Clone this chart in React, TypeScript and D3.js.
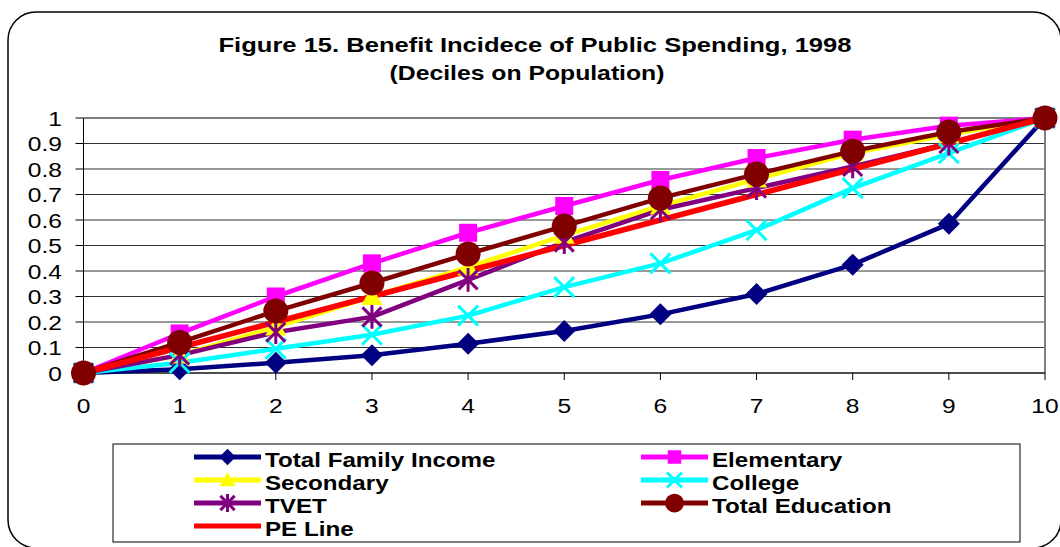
import React from "react";
import * as d3 from "d3";

const deciles = [0, 1, 2, 3, 4, 5, 6, 7, 8, 9, 10];
const yTicks = [0, 0.1, 0.2, 0.3, 0.4, 0.5, 0.6, 0.7, 0.8, 0.9, 1];

const totalFamilyIncome = [0, 0.015, 0.04, 0.07, 0.115, 0.165, 0.23, 0.31, 0.425, 0.585, 1];
const elementary = [0, 0.155, 0.3, 0.43, 0.55, 0.655, 0.757, 0.843, 0.915, 0.97, 1];
const secondary = [0, 0.07, 0.18, 0.3, 0.415, 0.54, 0.655, 0.76, 0.862, 0.935, 1];
const college = [0, 0.04, 0.095, 0.15, 0.225, 0.337, 0.43, 0.56, 0.725, 0.862, 1];
const tvet = [0, 0.07, 0.16, 0.22, 0.365, 0.513, 0.64, 0.725, 0.81, 0.9, 1];
const totalEducation = [0, 0.12, 0.243, 0.353, 0.467, 0.576, 0.686, 0.78, 0.87, 0.945, 1];
const peLine = [0, 0.1, 0.2, 0.3, 0.4, 0.5, 0.6, 0.7, 0.8, 0.9, 1];

type Marker = "diamond" | "square" | "triangle" | "x" | "star" | "circle" | "none";
const series: { name: string; values: number[]; color: string; marker: Marker; width: number }[] = [
  { name: "Total Family Income", values: totalFamilyIncome, color: "#000080", marker: "diamond", width: 4.5 },
  { name: "Elementary", values: elementary, color: "#FF00FF", marker: "square", width: 4.5 },
  { name: "Secondary", values: secondary, color: "#FFFF00", marker: "triangle", width: 4.5 },
  { name: "College", values: college, color: "#00FFFF", marker: "x", width: 4.5 },
  { name: "TVET", values: tvet, color: "#800080", marker: "star", width: 4.5 },
  { name: "Total Education", values: totalEducation, color: "#800000", marker: "circle", width: 4.5 },
  { name: "PE Line", values: peLine, color: "#FF0000", marker: "none", width: 5.5 },
];

function MarkerShape({ type, x, y, color, scale = 1 }: { type: Marker; x: number; y: number; color: string; scale?: number }) {
  const s = scale;
  switch (type) {
    case "diamond": {
      const r = 11 * s;
      return <path d={`M${x},${y - r}L${x + r},${y}L${x},${y + r}L${x - r},${y}Z`} fill={color} />;
    }
    case "square": {
      const h = 9 * s;
      return <rect x={x - h} y={y - h} width={2 * h} height={2 * h} fill={color} />;
    }
    case "triangle": {
      const h = 10.5 * s;
      return <path d={`M${x},${y - h}L${x + h},${y + h * 0.8}L${x - h},${y + h * 0.8}Z`} fill={color} />;
    }
    case "x": {
      const h = 10 * s;
      return (
        <path d={`M${x - h},${y - h}L${x + h},${y + h}M${x - h},${y + h}L${x + h},${y - h}`} stroke={color} strokeWidth={3} />
      );
    }
    case "star": {
      const h = 9.5 * s;
      return (
        <path
          d={`M${x - h},${y - h}L${x + h},${y + h}M${x - h},${y + h}L${x + h},${y - h}M${x},${y - h * 1.25}L${x},${y + h * 1.25}`}
          stroke={color}
          strokeWidth={3}
        />
      );
    }
    case "circle":
      return <circle cx={x} cy={y} r={12.5 * s} fill={color} />;
    default:
      return null;
  }
}

function SText({
  x,
  y,
  sx,
  size,
  anchor = "start",
  bold = false,
  children,
}: {
  x: number;
  y: number;
  sx: number;
  size: number;
  anchor?: "start" | "middle" | "end";
  bold?: boolean;
  children: React.ReactNode;
}) {
  return (
    <text
      transform={`translate(${x},${y}) scale(${sx},1)`}
      textAnchor={anchor}
      fontSize={size}
      fontWeight={bold ? "bold" : "normal"}
    >
      {children}
    </text>
  );
}

export default function App() {
  const W = 1060;
  const H = 547;
  const x = d3.scaleLinear().domain([0, 10]).range([83.5, 1045]);
  const y = d3.scaleLinear().domain([0, 1]).range([373, 118]);
  const line = d3
    .line<number>()
    .x((_, i) => x(deciles[i]))
    .y((d) => y(d));

  const legendRows = [
    [series[0], series[1]],
    [series[2], series[3]],
    [series[4], series[5]],
    [series[6]],
  ];
  const legendY = [457, 480, 503, 526];
  const colX = [194, 641];

  return (
    <svg width={W} height={H} style={{ position: "absolute", left: 0, top: 0 }} fontFamily="'Liberation Sans', Arial, sans-serif">
      <rect x={0} y={0} width={W} height={H} fill="#fff" />
      <rect x={8} y={12} width={1053} height={536} rx={28} ry={28} fill="none" stroke="#000" strokeWidth={1.5} />
      <SText x={535} y={52} sx={1.31} size={19.5} anchor="middle" bold>
        Figure 15. Benefit Incidece of Public Spending, 1998
      </SText>
      <SText x={527} y={80} sx={1.27} size={19.5} anchor="middle" bold>
        (Deciles on Population)
      </SText>

      {/* gridlines */}
      {yTicks.map((t) => (
        <line key={t} x1={x(0)} x2={x(10)} y1={y(t)} y2={y(t)} stroke={t === 1 ? "#808080" : "#333"} strokeWidth={t === 1 ? 2 : 1} />
      ))}
      <line x1={x(10)} x2={x(10)} y1={y(1)} y2={y(0)} stroke="#808080" strokeWidth={2} />
      {/* axes */}
      <line x1={x(0)} x2={x(0)} y1={y(1)} y2={y(0)} stroke="#000" strokeWidth={1} />
      <line x1={x(0)} x2={x(10)} y1={y(0)} y2={y(0)} stroke="#000" strokeWidth={1} />
      {yTicks.map((t) => (
        <g key={"yt" + t}>
          <line x1={x(0) - 8} x2={x(0)} y1={y(t)} y2={y(t)} stroke="#000" />
          <SText x={62} y={y(t) + 7.5} sx={1.17} size={21} anchor="end">
            {d3.format("~g")(t)}
          </SText>
        </g>
      ))}
      {deciles.map((d) => (
        <g key={"xt" + d}>
          <line x1={x(d)} x2={x(d)} y1={y(0)} y2={y(0) + 7} stroke="#000" />
          <SText x={x(d)} y={413} sx={1.17} size={21} anchor="middle">
            {d}
          </SText>
        </g>
      ))}

      {/* lines */}
      {series.map((s) => (
        <path key={s.name} d={line(s.values) || ""} fill="none" stroke={s.color} strokeWidth={s.width} strokeLinejoin="round" />
      ))}
      {/* markers */}
      {series.map((s) =>
        s.values.map((v, i) => <MarkerShape key={s.name + i} type={s.marker} x={x(deciles[i])} y={y(v)} color={s.color} />)
      )}

      {/* legend */}
      <rect x={113} y={444} width={907} height={98} fill="#fff" stroke="#000" strokeWidth={1} />
      {legendRows.map((row, ri) =>
        row.map((s, ci) => (
          <g key={s.name}>
            <line x1={colX[ci]} x2={colX[ci] + 67} y1={legendY[ri]} y2={legendY[ri]} stroke={s.color} strokeWidth={5} />
            <MarkerShape type={s.marker} x={colX[ci] + 33.5} y={legendY[ri]} color={s.color} scale={0.75} />
            <SText x={colX[ci] + 71} y={legendY[ri] + 10} sx={1.24} size={19.5} bold>
              {s.name}
            </SText>
          </g>
        ))
      )}
    </svg>
  );
}
